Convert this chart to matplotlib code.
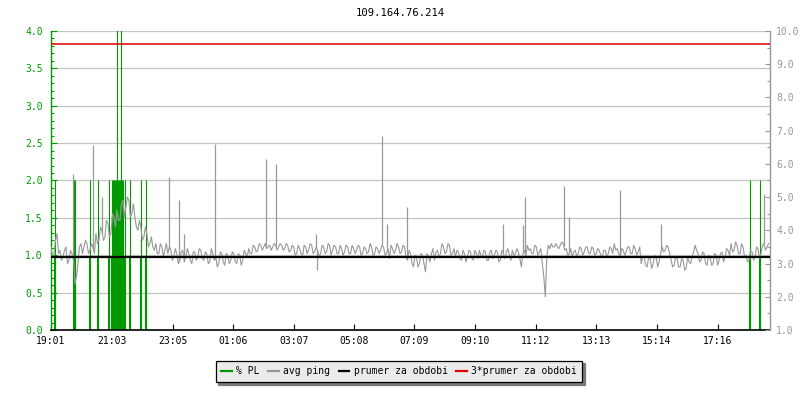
import numpy as np
import matplotlib
matplotlib.use("Agg")
import matplotlib.pyplot as plt
from matplotlib.lines import Line2D
from matplotlib.ticker import MultipleLocator, FormatStrFormatter

# ---------------- data ----------------
title = "109.164.76.214"
tick_labels = ["19:01", "21:03", "23:05", "01:06", "03:07", "05:08",
               "07:09", "09:10", "11:12", "13:13", "15:14", "17:16"]
tick_minutes = [0, 122, 244, 365, 486, 607, 728, 849, 971, 1092, 1213, 1335]
span_minutes = 1440

# avg ping (ms): samples every 6 minutes from 19:01 (ping_base) and the
# samples 3 minutes later (ping_mid)
ping_step = 6
ping_base = [
    3.5, 3.3, 3.9, 3.4, 3.2, 3.5, 3.1, 3.3, 2.4, 3.0,
    3.6, 3.5, 3.6, 3.4, 3.5, 3.9, 3.7, 4.0, 3.8, 4.2,
    3.9, 4.4, 4.6, 4.3, 4.9, 4.7, 4.9, 4.5, 4.4, 4.0,
    4.1, 3.8, 3.9, 3.6, 3.5, 3.6, 3.3, 3.5, 3.4, 3.3,
    3.4, 3.2, 3.3, 3.1, 3.4, 3.2, 3.3, 3.0, 3.35, 3.2,
    3.4, 3.1, 3.3, 3.05, 3.3, 3.2, 3.0, 3.3, 2.95, 3.25,
    3.1, 3.3, 3.0, 3.25, 3.1, 3.3, 3.45, 3.3, 3.5, 3.4,
    3.55, 3.5, 3.45, 3.55, 3.5, 3.55, 3.5, 3.55, 3.45, 3.55,
    3.4, 3.5, 3.3, 3.45, 3.25, 3.5, 3.4, 3.55, 3.35, 3.4,
    3.3, 3.5, 3.35, 3.55, 3.4, 3.5, 3.3, 3.45, 3.35, 3.5,
    3.3, 3.45, 3.4, 3.5, 3.3, 3.45, 3.35, 3.5, 3.3, 3.45,
    3.4, 3.5, 3.3, 3.15, 3.45, 3.4, 3.5, 3.35, 3.5, 3.1,
    3.3, 2.9, 3.2, 3.0, 3.25, 2.75, 3.2, 3.3, 3.1, 3.4,
    3.3, 3.5, 3.35, 3.55, 3.3, 3.2, 3.35, 3.1, 3.3, 3.2,
    3.35, 3.1, 3.3, 3.4, 3.2, 3.35, 3.1, 3.4, 3.25, 3.35,
    3.1, 3.3, 3.35, 3.25, 3.4, 3.3, 3.35, 2.9, 3.4, 3.55,
    3.45, 3.3, 3.5, 3.35, 3.0, 2.0, 3.55, 3.6, 3.5, 3.5,
    3.55, 3.6, 3.45, 3.3, 3.2, 3.4, 3.3, 3.45, 3.35, 3.5,
    3.3, 3.45, 3.3, 3.4, 3.2, 3.4, 3.3, 3.45, 3.6, 3.45,
    3.2, 3.4, 3.35, 3.5, 3.3, 3.45, 3.35, 3.0, 3.2, 2.9,
    3.15, 3.0, 3.2, 3.05, 3.5, 3.4, 3.5, 3.1, 2.95, 3.15,
    2.9, 3.1, 2.85, 3.05, 3.2, 3.55, 3.3, 3.1, 3.3, 2.95,
    3.2, 3.0, 3.25, 3.1, 3.35, 3.2, 3.4, 3.6, 3.4, 3.55,
    3.3, 3.5, 3.25, 3.1, 3.35, 3.2, 3.45, 3.3, 3.6, 3.5,
]
ping_mid = [
    3.2, 3.7, 3.3, 3.1, 3.4, 3.0, 3.4, 3.1, 2.6, 3.5,
    3.3, 3.7, 3.3, 3.6, 3.3, 3.6, 4.1, 3.7, 4.3, 3.8,
    4.5, 4.1, 4.3, 4.8, 4.4, 5.0, 4.4, 4.8, 4.1, 4.3,
    3.7, 4.1, 3.5, 3.8, 3.4, 3.3, 3.6, 3.2, 3.6, 3.5,
    3.1, 3.45, 3.0, 3.35, 3.05, 3.45, 3.1, 3.35, 3.1, 3.45,
    3.15, 3.35, 3.0, 3.45, 3.1, 2.9, 3.35, 3.05, 3.3, 3.0,
    3.35, 3.05, 3.3, 2.95, 3.4, 3.2, 3.3, 3.55, 3.35, 3.6,
    3.4, 3.6, 3.5, 3.4, 3.6, 3.4, 3.6, 3.4, 3.6, 3.35,
    3.55, 3.25, 3.55, 3.3, 3.55, 3.3, 3.6, 3.3, 3.5, 3.2,
    3.55, 3.3, 3.6, 3.25, 3.55, 3.3, 3.55, 3.25, 3.55, 3.3,
    3.55, 3.3, 3.55, 3.25, 3.5, 3.3, 3.6, 3.25, 3.5, 3.3,
    3.55, 3.25, 3.45, 3.55, 3.3, 3.6, 3.3, 3.55, 3.2, 3.4,
    3.0, 3.25, 2.9, 3.3, 3.0, 3.3, 3.05, 3.45, 3.35, 3.2,
    3.6, 3.3, 3.6, 3.25, 3.45, 3.4, 3.15, 3.4, 3.05, 3.4,
    3.15, 3.4, 3.15, 3.25, 3.4, 3.1, 3.35, 3.15, 3.4, 3.05,
    3.4, 3.15, 3.45, 3.1, 3.25, 3.45, 3.15, 3.3, 3.2, 3.4,
    3.3, 3.55, 3.25, 3.45, 2.6, 3.2, 3.45, 3.5, 3.6, 3.45,
    3.65, 3.4, 3.25, 3.45, 3.35, 3.2, 3.5, 3.25, 3.5, 3.3,
    3.5, 3.25, 3.45, 3.25, 3.4, 3.2, 3.5, 3.3, 3.4, 3.3,
    3.45, 3.25, 3.5, 3.3, 3.55, 3.25, 3.5, 3.2, 2.95, 3.2,
    2.85, 3.25, 2.9, 3.3, 3.35, 3.55, 3.3, 2.9, 3.2, 2.9,
    3.15, 2.8, 3.2, 3.0, 3.35, 3.4, 3.05, 3.35, 3.0, 3.25,
    2.95, 3.3, 2.95, 3.3, 3.05, 3.45, 3.25, 3.35, 3.65, 3.3,
    3.6, 3.2, 3.05, 3.4, 3.1, 3.5, 3.15, 3.55, 3.4, 3.6,
]
# short ping spikes (minute, ms)
spike_minutes = [44, 85, 103, 236, 256, 266, 328, 431, 451, 531, 533, 663,
                 673, 713, 905, 946, 949, 1027, 1038, 1140, 1222, 1428]
spike_values = [5.7, 6.56, 5.0, 5.6, 4.9, 3.9, 6.6, 6.15, 6.0, 3.9, 2.8, 6.85,
                4.2, 4.7, 4.2, 4.15, 5.0, 5.33, 4.4, 5.2, 4.2, 5.1]

# packet loss events (minute, %)
pl_minutes = [9, 46, 49, 78, 94, 116, 122, 124, 126, 128, 130, 132, 134, 136,
              138, 140, 142, 144, 148, 158, 180, 190, 1399, 1420]
pl_values = [2, 2, 2, 2, 2, 2, 2, 2, 2, 2, 2, 10, 2, 2,
             2, 10, 2, 2, 2, 2, 2, 2, 2, 2]

avg_ping = 3.2  # prumer za obdobi (ms)
avg_factor = 3

# ---------------- style ----------------
MONO = "DejaVu Sans Mono"
FS = 7
GREEN = "#009a00"
GRAY = "#989898"
GRID = "#c4c4c4"
plt.rcParams["font.family"] = MONO

fig = plt.figure(figsize=(8, 4), dpi=100)
ax = fig.add_axes([51 / 800, 70 / 400, 719 / 800, 299 / 400])
ax2 = ax.twinx()

# packet loss (left axis)
pl_t = np.array(pl_minutes, dtype=float)
pl_v = np.array(pl_values, dtype=float)
ax.vlines(pl_t, 0, pl_v, color=GREEN, lw=0.8, zorder=2)
ax.vlines(pl_t, 0, np.minimum(pl_v, 0.97), color=GREEN, lw=1.5, zorder=2)

# ping (right axis)
n = len(ping_base)
pt = np.empty(2 * n)
pv = np.empty(2 * n)
pt[0::2] = np.arange(n) * ping_step
pt[1::2] = np.arange(n) * ping_step + ping_step / 2
pv[0::2] = ping_base
pv[1::2] = ping_mid
ax2.plot(pt, pv, color=GRAY, lw=0.8, zorder=2)
sm = np.array(spike_minutes, dtype=float)
ax2.vlines(sm, np.interp(sm, pt, pv), spike_values, color=GRAY, lw=0.9, zorder=2)
ax2.axhline(avg_ping, color="black", lw=1.6, zorder=3)
ax2.axhline(avg_ping * avg_factor, color="#e00000", lw=1.1, zorder=3)

# axes limits / ticks
ax.set_xlim(0, span_minutes)
ax.set_ylim(0, 4)
ax2.set_ylim(1, 10)
ax.set_xticks(tick_minutes)
ax.set_xticklabels(tick_labels)
ax.yaxis.set_major_locator(MultipleLocator(0.5))
ax.yaxis.set_minor_locator(MultipleLocator(0.1))
ax.yaxis.set_major_formatter(FormatStrFormatter("%.1f"))
ax2.yaxis.set_major_locator(MultipleLocator(1))
ax2.yaxis.set_minor_locator(MultipleLocator(0.5))
ax2.yaxis.set_major_formatter(FormatStrFormatter("%.1f"))

ax.grid(axis="y", color=GRID, lw=0.9, zorder=0)
ax.set_axisbelow(True)

ax.tick_params(axis="x", direction="in", length=4, width=0.8, color="black",
               labelsize=FS, pad=4)
ax.tick_params(axis="y", which="major", direction="in", length=4, width=0.8,
               color=GREEN, labelcolor=GREEN, labelsize=FS, pad=6)
ax.tick_params(axis="y", which="minor", direction="in", length=2.5, width=0.8,
               color=GREEN)
ax2.tick_params(axis="y", which="major", direction="in", length=3.5, width=0.8,
                color=GRAY, labelcolor=GRAY, labelsize=FS, pad=4.5)
ax2.tick_params(axis="y", which="minor", direction="in", length=2.2, width=0.8,
                color=GRAY)

for a in (ax, ax2):
    a.spines["top"].set_visible(False)
ax.spines["left"].set_color(GREEN)
ax.spines["left"].set_linewidth(1.0)
ax.spines["right"].set_visible(False)
ax2.spines["left"].set_visible(False)
ax2.spines["bottom"].set_visible(False)
ax2.spines["right"].set_color(GRAY)
ax2.spines["right"].set_linewidth(1.0)
ax.spines["bottom"].set_color("black")
ax.spines["bottom"].set_linewidth(1.2)

fig.text(0.5, 1 - 13 / 400, title, ha="center", va="center", fontsize=7.6,
         family=MONO)

# legend
handles = [Line2D([], [], color=GREEN, lw=1.6),
           Line2D([], [], color=GRAY, lw=1.6),
           Line2D([], [], color="black", lw=1.6),
           Line2D([], [], color="#e00000", lw=1.6)]
labels = ["% PL", "avg ping", "prumer za obdobi", "3*prumer za obdobi"]
leg = fig.legend(handles, labels, loc="center",
                 bbox_to_anchor=(399 / 800, 1 - 371.5 / 400),
                 ncol=4, frameon=True, fancybox=False,
                 shadow={"color": "#7a7a7a", "alpha": 1.0},
                 handlelength=1.1, handletextpad=0.45, columnspacing=0.85,
                 borderpad=0.6, borderaxespad=0.0,
                 prop={"family": MONO, "size": FS})
leg.get_frame().set_facecolor("#ebebeb")
leg.get_frame().set_edgecolor("black")
leg.get_frame().set_linewidth(0.9)
leg.get_frame().set_alpha(1.0)

fig.savefig("out.png", dpi=100, facecolor="white")
